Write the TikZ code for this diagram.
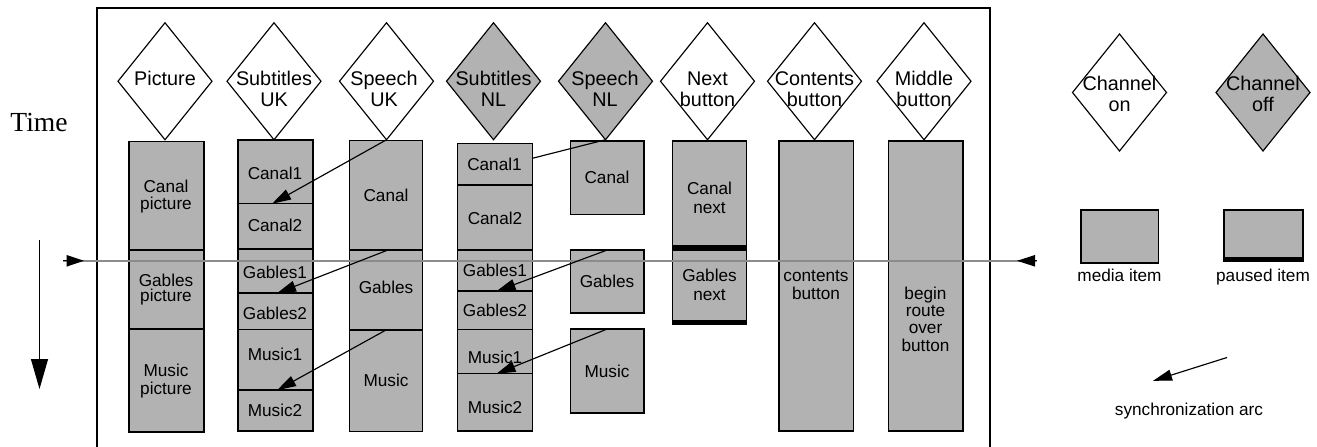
\documentclass[tikz,border=0pt]{standalone}
\usepackage{fontspec}
\setmainfont{Liberation Sans}
\newfontfamily\timesfam{Liberation Serif}
\usetikzlibrary{shapes.geometric,arrows.meta}
\definecolor{itemgrey}{HTML}{B2B2B2}
\definecolor{timegrey}{HTML}{8C8C8C}
\tikzset{
  itembox/.style={draw=black,line width=1.25pt,fill=itemgrey,rectangle,inner sep=0pt,outer sep=0pt},
  chan/.style={draw=black,line width=1.15pt,diamond,inner sep=0pt,outer sep=0pt,minimum width=94pt,minimum height=117pt},
  chanon/.style={chan,fill=white},
  chanoff/.style={chan,fill=itemgrey},
  chanlab/.style={align=center,inner sep=0pt,font=\fontsize{19.8}{21}\selectfont},
  lab/.style={align=center,inner sep=0pt,font=\fontsize{17.2}{17.3}\selectfont},
  syncarc/.style={draw=black,line width=1.15pt,-{Triangle[length=19pt,width=11pt]},shorten >=-0.5pt},
  pausebar/.style={fill=black,draw=none,rectangle,inner sep=0pt,outer sep=0pt},
}
\newcommand{\bx}[5]{\pgfmathsetmacro\bw{#4-#2}\pgfmathsetmacro\bh{#5-#3}\pgfmathsetmacro\bcx{(#2+#4)/2}\pgfmathsetmacro\bcy{(#3+#5)/2}\node[itembox,minimum width=\bw pt,minimum height=\bh pt] (#1) at (\bcx,\bcy) {};}
\newcommand{\pbar}[5]{\pgfmathsetmacro\bw{#4-#2}\pgfmathsetmacro\bh{#5-#3}\pgfmathsetmacro\bcx{(#2+#4)/2}\pgfmathsetmacro\bcy{(#3+#5)/2}\node[pausebar,minimum width=\bw pt,minimum height=\bh pt] (#1) at (\bcx,\bcy) {};}
\newcommand{\tx}[4]{\node[lab] (#1) at (#2,#3) {#4};}
\newcommand{\chl}[4]{\node[chanlab] (#1) at (#2,#3) {#4};}
\begin{document}
\begin{tikzpicture}[x=1pt,y=-1pt]
\useasboundingbox (0,0) rectangle (1317,447);
\fill[white] (0,0) rectangle (1317,447);
% frame
\coordinate (fbl) at (97,447);
\coordinate (ftl) at (97,8);
\coordinate (ftr) at (990,8);
\coordinate (fbr) at (990,447);
\draw[line width=1.25pt] (fbl) -- (ftl) -- (ftr) -- (fbr);
% channels
\foreach \n/\x/\s in {dpic/165/chanon,dsuk/274/chanon,dspuk/386.5/chanon,dsnl/493.5/chanoff,dspnl/605.5/chanoff,dnext/707.5/chanon,dcont/814.5/chanon,dmid/924/chanon}
  {\node[\s] (\n) at (\x,81.25) {};}
\node[chanon] (don) at (1119.5,92.5) {};
\node[chanoff] (doff) at (1263,92.5) {};
\chl{tpic}{165}{78.5}{Picture}
\chl{tsuk}{274}{89}{Subtitles\\UK}
\chl{tspuk}{384}{89}{Speech\\UK}
\chl{tsnl}{493.5}{89}{Subtitles\\NL}
\chl{tspnl}{605}{89}{Speech\\NL}
\chl{tnext}{707.5}{89}{Next\\button}
\chl{tcont}{814.5}{89}{Contents\\button}
\chl{tmid}{924}{89}{Middle\\button}
\chl{ton}{1119.5}{93.5}{Channel\\on}
\chl{toff}{1263}{93.5}{Channel\\off}
% Picture column
\bx{pa}{129}{141.5}{204}{250}
\bx{pb}{129}{250}{204}{329}
\bx{pc}{129}{329}{204}{432}
% Subtitles UK
\bx{ua}{238}{140}{313}{203.5}
\bx{ub}{238}{203.5}{313}{249}
\bx{uc}{238}{249}{313}{293}
\bx{ud}{238}{293}{313}{329.5}
\bx{ue}{238}{329.5}{313}{390}
\bx{uf}{238}{390}{313}{431}
% Speech UK
\bx{sa}{349.5}{140.5}{422.5}{250}
\bx{sb}{349.5}{250}{422.5}{330}
\bx{sc}{349.5}{330}{422.5}{431.5}
% Subtitles NL
\bx{na}{457.5}{143.5}{532.5}{185}
\bx{nb}{457.5}{185}{532.5}{250}
\bx{nc}{457.5}{250}{532.5}{291}
\bx{nd}{457.5}{291}{532.5}{329.5}
\bx{ne}{457.5}{329.5}{532.5}{373.5}
\bx{nf}{457.5}{373.5}{532.5}{431}
% Speech NL
\bx{ma}{570.5}{141}{644}{214.5}
\bx{mb}{570.5}{250}{644}{313}
\bx{mc}{570.5}{329}{644}{413}
% Next
\bx{xa}{672.5}{141}{746.5}{250}
\bx{xb}{672.5}{250}{746.5}{324}
\pbar{xab}{672.5}{245}{746.5}{250}
\pbar{xbb}{672.5}{320}{746.5}{325}
% Contents, Middle
\bx{co}{779}{141}{853.5}{431}
\bx{mi}{888.5}{141}{963}{431}
% legend
\bx{lm}{1081}{210}{1158.5}{263}
\bx{lp}{1224}{210}{1303}{261}
\pbar{lpb}{1224}{257}{1303}{261}
% box labels
\tx{tpa}{166}{196.5}{Canal\\picture}
\node[align=center,inner sep=0pt,font=\fontsize{17.2}{15}\selectfont] (tpb) at (166,290) {Gables\\picture};
\tx{tpc}{166}{381}{Music\\picture}
\tx{tua}{275}{173}{Canal1}
\tx{tub}{275}{225}{Canal2}
\tx{tuc}{275}{272.5}{Gables1}
\tx{tud}{275}{313}{Gables2}
\tx{tue}{275}{354}{Music1}
\tx{tuf}{275}{410}{Music2}
\tx{tsa}{386}{195}{Canal}
\tx{tsb}{386}{287}{Gables}
\tx{tsc}{386}{380}{Music}
\tx{tna}{494.5}{164}{Canal1}
\tx{tnb}{495}{218}{Canal2}
\tx{tnc}{495}{270}{Gables1}
\tx{tnd}{495}{310}{Gables2}
\tx{tne}{495}{357}{Music1}
\tx{tnf}{495}{407}{Music2}
\tx{tma}{607}{177}{Canal}
\tx{tmb}{607}{281}{Gables}
\tx{tmc}{607}{371}{Music}
\node[align=center,inner sep=0pt,font=\fontsize{17.2}{19}\selectfont] (txa) at (709.5,198) {Canal\\next};
\node[align=center,inner sep=0pt,font=\fontsize{17.2}{19}\selectfont] (txb) at (709.5,285) {Gables\\next};
\tx{tco}{816}{285}{contents\\button}
\tx{tmi}{925.5}{319}{begin\\route\\over\\button}
\tx{tlm}{1119.5}{275.5}{media item}
\tx{tlp}{1263}{277.5}{paused item}
\tx{tls}{1189}{411}{synchronization arc}
% time line
\coordinate (tl) at (63,260.8);
\coordinate (tr) at (1037,260.8);
\draw[timegrey,line width=1.5pt] (tl) -- (tr);
\fill[black] (66.7,255) -- (84,260.8) -- (66.7,266.6) -- cycle;
\fill[black] (1017,260.8) -- (1035,255) -- (1035,266.6) -- cycle;
\draw[black,line width=1.15pt] (63,260.8) -- (68,260.8) (1033,260.8) -- (1037,260.8);
% sync arcs
\draw[syncarc] (dspuk.south) -- ([xshift=-3pt]ua.south);
\draw[syncarc] ([xshift=2pt]sb.north) -- ([xshift=2pt]uc.south);
\draw[syncarc] (sc.north) -- ([xshift=2pt]ue.south);
\draw[black,line width=1.15pt] (dspnl.south) -- ([yshift=6pt]na.east);
\draw[syncarc] (mb.north) -- ([xshift=2pt]nc.south);
\draw[syncarc] (mc.north) -- ([xshift=2pt]ne.south);
% legend arc
\coordinate (as) at (1227,357.5);
\coordinate (ae) at (1153.5,380.7);
\draw[syncarc] (as) -- (ae);
% Time
\node[inner sep=0pt,font=\timesfam\fontsize{27.6}{30}\selectfont] (ttime) at (39,122) {Time};
\coordinate (ta) at (39.5,240);
\coordinate (tb) at (39.5,389);
\draw[line width=1.15pt,-{Triangle[length=30pt,width=17pt]}] (ta) -- (tb);
\end{tikzpicture}
\end{document}
